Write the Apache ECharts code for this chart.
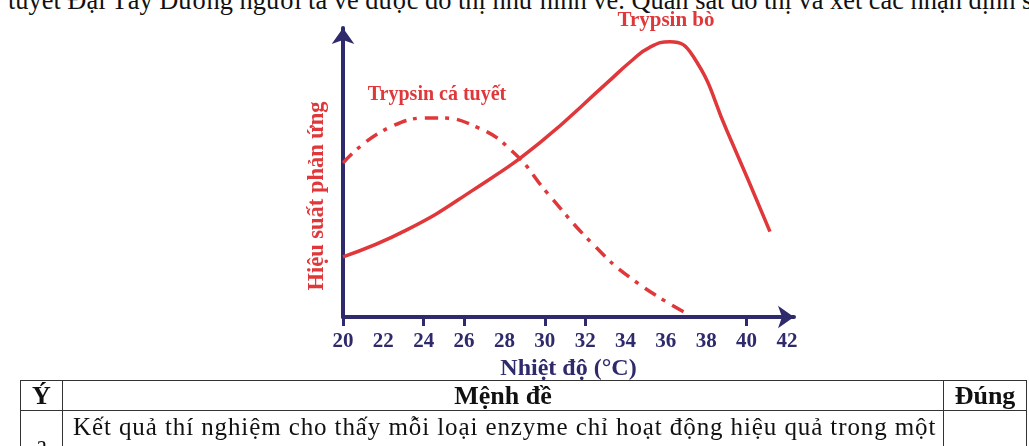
<!DOCTYPE html>
<html>
<head>
<meta charset="utf-8">
<script src="https://cdn.jsdelivr.net/npm/echarts@6.0.0/dist/echarts.min.js"></script>
<style>
  html, body { margin: 0; padding: 0; background: #fff; }
  body { width: 1029px; height: 446px; position: relative; overflow: hidden; }
  #main { position: absolute; left: 0; top: 0; width: 1029px; height: 446px; }
  .top-text {
    position: absolute; left: 8px; top: -15px; white-space: nowrap;
    font-family: "Liberation Serif", serif; font-size: 26.4px; color: #111;
  }
  table {
    position: absolute; left: 20px; top: 380px; width: 1007px;
    border-collapse: collapse; font-family: "Liberation Serif", serif; color: #111;
  }
  td { border: 1.5px solid #333; padding: 0; }
  .hd td { height: 29px; line-height: 29px; font-weight: bold; font-size: 26px; text-align: center; }
  .row td { height: 50px; font-size: 25px; vertical-align: top; }
</style>
</head>
<body>
<div class="top-text">tuyết Đại Tây Dương người ta vẽ được đồ thị như hình vẽ. Quan sát đồ thị và xét các nhận định sau</div>
<div id="main"></div>
<table>
  <tr class="hd"><td style="width:41px">Ý</td><td>Mệnh đề</td><td style="width:82px">Đúng</td></tr>
  <tr class="row"><td style="text-align:center;padding-top:20px">a</td><td style="padding-left:10px;padding-top:2px;letter-spacing:0.9px">Kết quả thí nghiệm cho thấy mỗi loại enzyme chỉ hoạt động hiệu quả trong một</td><td></td></tr>
</table>
<script type="text/javascript">
    // nhiệt độ (°C) và hiệu suất
    var tempTicks = [20, 22, 24, 26, 28, 30, 32, 34, 36, 38, 40, 42];
    var tickMarks = [20, 24, 26, 30, 32, 40];

    // Trypsin bò
    var bo_temp = [20, 23.16, 26.46, 29.76, 33.07, 34.3, 35.2, 36.2, 37.36, 39.01, 41.16];
    var bo_rate = [21.5, 31.1, 45.4, 62.3, 83.5, 91.5, 96.3, 98.3, 93, 66.8, 30.5];

    // Trypsin cá tuyết
    var ca_temp = [20, 22.33, 24.6, 26.63, 28.44, 30.17, 32.4, 34.39, 37.03];
    var ca_rate = [55, 67.8, 71.1, 67.8, 58.8, 43.9, 25.9, 13.2, 1.3];

    var red = '#e0383a';
    var navy = '#2f2a6c';
    var font = '"Liberation Serif", serif';

    var myChart = echarts.init(document.getElementById('main'));
    var option = {
        animation: false,
        grid: { left: 343, right: 235, top: 28, bottom: 129 },
        xAxis: {
            type: 'value',
            min: 20,
            max: 42.35,
            name: 'Nhiệt độ (°C)',
            nameLocation: 'middle',
            nameGap: 38,
            nameTextStyle: { color: navy, fontFamily: font, fontWeight: 'bold', fontSize: 24 },
            axisLine: { lineStyle: { color: navy, width: 4 }, symbol: ['none', 'arrow'], symbolSize: [17, 16] },
            axisTick: { show: true, customValues: tickMarks, length: 9, lineStyle: { color: navy, width: 3 } },
            axisLabel: {
                customValues: tempTicks,
                margin: 14,
                color: navy, fontFamily: font, fontWeight: 'bold', fontSize: 21
            },
            splitLine: { show: false }
        },
        yAxis: {
            type: 'value',
            min: 0,
            max: 103.2,
            axisLine: { show: true, lineStyle: { color: navy, width: 4 }, symbol: ['none', 'arrow'], symbolSize: [17, 16] },
            axisTick: { show: false },
            axisLabel: { show: false },
            splitLine: { show: false }
        },
        graphic: [
            { type: 'text', x: 317, y: 196, rotation: Math.PI / 2,
              style: { text: 'Hiệu suất phản ứng', fill: red, font: 'bold 22.5px ' + font, align: 'center', verticalAlign: 'middle' } },
            { type: 'text', x: 666, y: 21,
              style: { text: 'Trypsin bò', fill: red, font: 'bold 21px ' + font, align: 'center', verticalAlign: 'middle' } },
            { type: 'text', x: 437, y: 95,
              style: { text: 'Trypsin cá tuyết', fill: red, font: 'bold 20px ' + font, align: 'center', verticalAlign: 'middle' } }
        ],
        series: [{
            name: 'Trypsin bò',
            type: 'line',
            smooth: 0.5,
            showSymbol: false,
            lineStyle: { color: red, width: 3.5 },
            data: bo_temp.map(function (t, i) { return [t, bo_rate[i]]; })
        }, {
            name: 'Trypsin cá tuyết',
            type: 'line',
            smooth: 0.5,
            showSymbol: false,
            lineStyle: { color: red, width: 3.5, type: [13, 7, 4, 8] },
            data: ca_temp.map(function (t, i) { return [t, ca_rate[i]]; })
        }]
    };
    myChart.setOption(option);
</script>
</body>
</html>
